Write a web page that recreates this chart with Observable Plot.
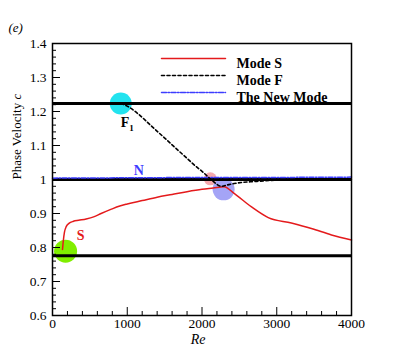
<!DOCTYPE html>
<html><head><meta charset="utf-8">
<script src="https://cdn.jsdelivr.net/npm/d3@7"></script>
<script src="https://cdn.jsdelivr.net/npm/@observablehq/plot@0.6"></script>
<style>body{margin:0;background:#fff} svg text, svg tspan {font-family: "Liberation Serif", serif !important;}</style>
</head><body><div id="chart"></div>
<script>
// Mode S (red)
const sRe = [134,145,160,185,220,280,350,450,550,650,780,900,1000,1200,1400,1600,1800,2000,2150,2295,2430,2658,2886,3195,3463,3732,4000];
const sC  = [0.794,0.82,0.845,0.862,0.871,0.877,0.880,0.884,0.890,0.900,0.912,0.922,0.928,0.938,0.948,0.956,0.964,0.971,0.975,0.979,0.959,0.920,0.888,0.872,0.856,0.837,0.822];
// Mode F (black dashed)
const fRe = [913,980,1141,1315,1490,1600,1700,1800,1900,2000,2111,2175,2255,2340,2430,2523,2700,2900,3100,3500,4000];
const fC  = [1.2235,1.218,1.194,1.159,1.124,1.102,1.082,1.062,1.042,1.024,1.002,0.990,0.980,0.984,0.988,0.991,0.994,0.997,0.999,1.0,1.0];
// The New Mode (blue dash-dot)
const nRe = [0,1000,2000,3000,4000];
const nC  = [1.004,1.005,1.006,1.006,1.007];
// reference horizontal lines
const refC = [0.776, 1.0, 1.2235];
// highlighted points
const circleRe = [913, 175, 2111, 2289];
const circleC  = [1.2235, 0.789, 1.002, 0.971];
// annotations
const annLabels = ["F1", "N", "S"];
const annRe = [1000, 1154, 376];
const annC  = [1.168, 1.026, 0.835];
// legend
const legendLabels = ["Mode S", "Mode F", "The New Mode"];
// ticks
const xMajor = [0,1000,2000,3000,4000];
const xMinor = d3.range(0, 4001, 200).filter(v => v % 1000 !== 0);
const yMajor = [0.6,0.7,0.8,0.9,1.0,1.1,1.2,1.3,1.4];
const yMinor = d3.range(30, 71, 1).map(v => v/50).filter(v => Math.abs(v*10 - Math.round(v*10)) > 1e-6);

const S = sRe.map((x,i) => ({x, y: sC[i]}));
const F = fRe.map((x,i) => ({x, y: fC[i]}));
const N = nRe.map((x,i) => ({x, y: nC[i]}));
const circ = circleRe.map((x,i) => ({x, y: circleC[i]}));
const ann = annLabels.map((t,i) => ({t, x: annRe[i], y: annC[i]}));

const FONT = "Liberation Serif";
const red = "#e41a1c", blue = "#3d3dff";
const circColors = ["#22e3ef", "#80ee00", "#f6a9ae", "#a4a4f6"];
const circR = [11, 11.5, 6.5, 11];
const lineShape = {draw(ctx, l){ ctx.moveTo(0,0); ctx.lineTo(0,-l); }};
const legStyles = [
  {stroke: red, strokeWidth: 1.5},
  {stroke: "black", strokeWidth: 1.6, strokeDasharray: "3,2.5"},
  {stroke: blue, strokeWidth: 1.5, strokeDasharray: "5,1.5,1.5,1.5"}
];

const chart = Plot.plot({
  width: 399, height: 355,
  marginLeft: 52, marginRight: 48, marginTop: 43, marginBottom: 40,
  x: {domain: [0, 4000]},
  y: {domain: [0.6, 1.4]},
  style: {fontFamily: FONT, fontSize: "13.5px", color: "black", background: "white"},
  marks: [
    ...circ.map((d,i) => Plot.dot([d], {x: "x", y: "y", r: circR[i], fill: circColors[i], stroke: null})),
    Plot.ruleY(refC, {stroke: "black", strokeWidth: 3}),
    Plot.line(N, {x: "x", y: "y", stroke: blue, strokeWidth: 1.5, strokeDasharray: "5,1.5,1.5,1.5"}),
    Plot.line(S, {x: "x", y: "y", stroke: red, strokeWidth: 1.5, curve: "monotone-x"}),
    Plot.line(F, {x: "x", y: "y", stroke: "black", strokeWidth: 1.6, strokeDasharray: "3,2.5", curve: "monotone-x"}),
    Plot.text(ann, {x: "x", y: "y", text: "t", fontWeight: "bold", fontSize: 14, fontFamily: FONT,
      fill: d => d.t === "N" ? blue : d.t === "S" ? red : "black"}),
    Plot.frame({stroke: "black", strokeWidth: 1.5}),
    Plot.axisY(yMajor, {tickSize: -8, tickPadding: 14, tickFormat: d => String(+d.toFixed(1)), label: null, fontFamily: FONT, fontSize: 13.5}),
    Plot.axisY(yMinor, {tickSize: -4, tickFormat: () => "", label: null}),
    Plot.axisX(xMajor, {tickSize: -8, tickPadding: 11, tickFormat: d => String(d), label: null, fontFamily: FONT, fontSize: 13.5}),
    Plot.axisX(xMinor, {tickSize: -4, tickFormat: () => "", label: null}),
    ...legendLabels.map((t,i) => Plot.vector([t], {frameAnchor: "top-left", dx: 109, dy: 15 + 17*i, length: 64, rotate: 90, anchor: "start", shape: lineShape, ...legStyles[i]})),
    ...legendLabels.map((t,i) => Plot.text([t], {frameAnchor: "top-left", dx: 184, dy: 15 + 17*i, textAnchor: "start", fontWeight: "bold", fontSize: 14, fontFamily: FONT})),
    Plot.text(["Re"], {frameAnchor: "bottom", dx: -4, dy: 28, fontStyle: "italic", fontSize: 14, fontFamily: FONT}),
    Plot.text(["Phase Velocity c"], {frameAnchor: "left", dx: -36, rotate: -90, fontSize: 13, fontFamily: FONT}),
    Plot.text(["(e)"], {frameAnchor: "top-left", dx: -44, dy: -21, textAnchor: "start", fontStyle: "italic", fontSize: 13, fontFamily: FONT})
  ]
});
// rich text touches: subscript on F1, italic c in axis label
chart.querySelectorAll("text").forEach(t => {
  if (t.textContent === "F1") {
    t.textContent = "F";
    const s = document.createElementNS("http://www.w3.org/2000/svg", "tspan");
    s.setAttribute("dy", "4"); s.setAttribute("font-size", "9"); s.textContent = "1";
    t.appendChild(s);
  } else if (t.textContent === "Phase Velocity c") {
    t.textContent = "Phase Velocity ";
    const s = document.createElementNS("http://www.w3.org/2000/svg", "tspan");
    s.setAttribute("font-style", "italic"); s.textContent = "c";
    t.appendChild(s);
  }
});
document.getElementById("chart").appendChild(chart);
</script>
</body></html>
